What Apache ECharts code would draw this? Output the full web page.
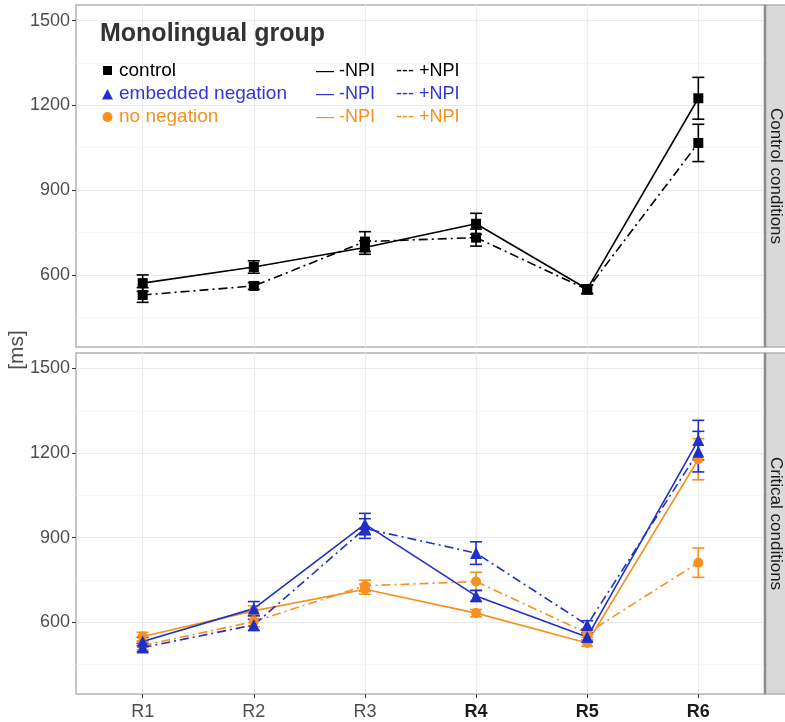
<!DOCTYPE html>
<html>
<head>
<meta charset="utf-8">
<script src="https://cdn.jsdelivr.net/npm/echarts@6/dist/echarts.min.js"></script>
<style>
  html, body { margin: 0; padding: 0; background: #fff; }
  #chart { width: 785px; height: 722px; }
</style>
</head>
<body>
<div id="chart"></div>
<script>
// categories / ticks
const regions = ['R1', 'R2', 'R3', 'R4', 'R5', 'R6'];
const boldRegions = ['R4', 'R5', 'R6'];
const yTicks = [600, 900, 1200, 1500];
const yMinor = [450, 750, 1050, 1350];
const yLimits = [345, 1555];
const panelNames = ['Control conditions', 'Critical conditions'];

// mean reading times [ms] and error bar half-widths
const controlNoNpi = [571, 628, 697, 781, 550, 1225];
const controlNoNpiErr = [29, 22, 24, 37, 15, 74];
const controlNpi = [529, 561, 718, 732, 548, 1067];
const controlNpiErr = [26, 12, 35, 30, 15, 66];

const embeddedNoNpi = [531, 648, 948, 693, 547, 1246];
const embeddedNoNpiErr = [15, 25, 38, 20, 15, 70];
const embeddedNpi = [510, 590, 932, 845, 590, 1205];
const embeddedNpiErr = [15, 20, 35, 40, 15, 72];

const noNegNoNpi = [549, 640, 717, 632, 526, 1178];
const noNegNoNpiErr = [15, 18, 18, 13, 12, 73];
const noNegNpi = [517, 602, 729, 744, 561, 811];
const noNegNpiErr = [15, 18, 20, 33, 15, 52];

const BLACK = '#000000';
const BLUE = '#1f2fc8';
const ORANGE = '#f7901e';
const DOTDASH = [9, 4, 2, 4];

const chart = echarts.init(document.getElementById('chart'));

function pts(vals) {
  return vals.map((v, i) => [i + 1, v]);
}
function bars(vals, errs) {
  return vals.map((v, i) => [i + 1, v - errs[i], v + errs[i]]);
}

function gridSeries(idx) {
  const lines = regions.map((r, i) => ({ xAxis: i + 1, lineStyle: { color: '#ebebeb', width: 1.2 } }))
    .concat(yTicks.map(v => ({ yAxis: v, lineStyle: { color: '#ebebeb', width: 1.2 } })))
    .concat(yMinor.map(v => ({ yAxis: v, lineStyle: { color: '#f4f4f4', width: 0.8 } })));
  return {
    type: 'line', data: [], xAxisIndex: idx, yAxisIndex: idx, silent: true, z: 1,
    markLine: { symbol: 'none', silent: true, z: 1, label: { show: false }, animation: false,
      lineStyle: { type: 'solid' }, data: lines }
  };
}

function lineSeries(idx, vals, color, symbol, size, dash) {
  return {
    type: 'line', xAxisIndex: idx, yAxisIndex: idx, data: pts(vals), z: 4,
    symbol: symbol, symbolSize: size, showSymbol: true,
    itemStyle: { color: color, borderWidth: 0, borderColor: color },
    lineStyle: { color: color, width: 1.6, type: dash },
    emphasis: { disabled: true },
    animation: false
  };
}

function errSeries(idx, vals, errs, color) {
  return {
    type: 'custom', xAxisIndex: idx, yAxisIndex: idx, data: bars(vals, errs), z: 3,
    animation: false,
    renderItem: function (params, api) {
      const x = api.value(0);
      const lo = api.coord([x, api.value(1)]);
      const hi = api.coord([x, api.value(2)]);
      const w = 6;
      const style = { stroke: color, lineWidth: 1.6 };
      return {
        type: 'group',
        children: [
          { type: 'line', shape: { x1: lo[0], y1: lo[1], x2: hi[0], y2: hi[1] }, style: style },
          { type: 'line', shape: { x1: lo[0] - w, y1: lo[1], x2: lo[0] + w, y2: lo[1] }, style: style },
          { type: 'line', shape: { x1: hi[0] - w, y1: hi[1], x2: hi[0] + w, y2: hi[1] }, style: style }
        ]
      };
    }
  };
}

const tickColor = '#333333';
const labelColor = '#4d4d4d';

function xAxis(idx, showLabels) {
  return {
    type: 'value', gridIndex: idx, min: 0.4, max: 6.6,
    axisLine: { show: false },
    splitLine: { show: false },
    axisTick: { show: showLabels, length: 4, lineStyle: { color: tickColor, width: 1 }, customValues: [1, 2, 3, 4, 5, 6] },
    axisLabel: {
      show: showLabels, customValues: [1, 2, 3, 4, 5, 6], margin: 9,
      fontFamily: 'Liberation Sans', fontSize: 18, color: labelColor,
      formatter: function (v) {
        const r = regions[Math.round(v) - 1];
        return boldRegions.indexOf(r) >= 0 ? '{b|' + r + '}' : r;
      },
      rich: { b: { fontWeight: 'bold', color: '#1a1a1a', fontFamily: 'Liberation Sans', fontSize: 18 } }
    }
  };
}

function yAxis(idx) {
  return {
    type: 'value', gridIndex: idx, min: yLimits[0], max: yLimits[1],
    axisLine: { show: false },
    splitLine: { show: false },
    axisTick: { show: true, length: 4, lineStyle: { color: tickColor, width: 1 }, customValues: yTicks },
    axisLabel: {
      customValues: yTicks, margin: 6, fontFamily: 'Liberation Sans', fontSize: 18, color: labelColor,
      formatter: function (v) { return String(v); }
    }
  };
}

// legend (drawn as graphic text)
const groupNames = ['control', 'embedded negation', 'no negation'];
const groupColors = [BLACK, '#3333d6', ORANGE];
const legendRowsY = [71, 94, 117];
const legendGraphics = [
  { type: 'text', left: 100, top: 22, z: 20, style: { text: 'Monolingual group', fontFamily: 'Liberation Sans', fontWeight: 'bold', fontSize: 25, fill: '#333333' } },
  { type: 'rect', z: 20, shape: { x: 103, y: 66, width: 9, height: 9 }, style: { fill: BLACK } },
  { type: 'polygon', z: 20, shape: { points: [[107.5, 89], [102, 99.5], [113, 99.5]] }, style: { fill: '#2b2bd0' } },
  { type: 'circle', z: 20, shape: { cx: 107.5, cy: 117, r: 5 }, style: { fill: ORANGE } }
];
groupNames.forEach((g, i) => {
  legendGraphics.push({ type: 'text', z: 20, x: 119, y: legendRowsY[i], style: { text: g, fontFamily: 'Liberation Sans', fontSize: 19, fill: groupColors[i], verticalAlign: 'middle' } });
  legendGraphics.push({ type: 'text', z: 20, x: 316, y: legendRowsY[i], style: { text: '\u2014 -NPI', fontFamily: 'Liberation Sans', fontSize: 18, fill: groupColors[i], verticalAlign: 'middle' } });
  legendGraphics.push({ type: 'text', z: 20, x: 396, y: legendRowsY[i], style: { text: '--- +NPI', fontFamily: 'Liberation Sans', fontSize: 18, fill: groupColors[i], verticalAlign: 'middle' } });
});

// facet strips
const panels = [{ top: 5, height: 342 }, { top: 353, height: 341 }];
const stripGraphics = [];
panels.forEach((p, i) => {
  stripGraphics.push({ type: 'rect', shape: { x: 765, y: p.top, width: 22, height: p.height }, style: { fill: '#d9d9d9', stroke: '#b3b3b3', lineWidth: 1.5 }, z: 10 });
  stripGraphics.push({ type: 'line', shape: { x1: 765, y1: p.top, x2: 765, y2: p.top + p.height }, style: { stroke: '#8c8c8c', lineWidth: 2.5 }, z: 11 });
  stripGraphics.push({ type: 'text', x: 775.5, y: p.top + p.height / 2, rotation: -Math.PI / 2, z: 12,
    style: { text: panelNames[i], fontFamily: 'Liberation Sans', fontSize: 17, fill: '#1a1a1a', align: 'center', verticalAlign: 'middle' } });
});
stripGraphics.push({ type: 'text', x: 17, y: 350, rotation: Math.PI / 2,
  style: { text: '[ms]', fontFamily: 'Liberation Sans', fontSize: 21, fill: '#4d4d4d', align: 'center', verticalAlign: 'middle' } });

chart.setOption({
  animation: false,
  backgroundColor: '#ffffff',
  grid: panels.map(p => ({
    left: 76, top: p.top, width: 689, height: p.height,
    show: true, backgroundColor: '#ffffff', borderColor: '#b3b3b3', borderWidth: 1.5
  })),
  xAxis: [xAxis(0, false), xAxis(1, true)],
  yAxis: [yAxis(0), yAxis(1)],
  graphic: legendGraphics.concat(stripGraphics),
  series: [
    gridSeries(0),
    gridSeries(1),
    // control conditions
    errSeries(0, controlNoNpi, controlNoNpiErr, BLACK),
    errSeries(0, controlNpi, controlNpiErr, BLACK),
    lineSeries(0, controlNoNpi, BLACK, 'rect', 10, 'solid'),
    lineSeries(0, controlNpi, BLACK, 'rect', 10, DOTDASH),
    // critical conditions
    errSeries(1, noNegNoNpi, noNegNoNpiErr, ORANGE),
    errSeries(1, noNegNpi, noNegNpiErr, ORANGE),
    lineSeries(1, noNegNoNpi, ORANGE, 'circle', 10, 'solid'),
    lineSeries(1, noNegNpi, ORANGE, 'circle', 10, DOTDASH),
    errSeries(1, embeddedNoNpi, embeddedNoNpiErr, BLUE),
    errSeries(1, embeddedNpi, embeddedNpiErr, BLUE),
    lineSeries(1, embeddedNoNpi, BLUE, 'triangle', 12, 'solid'),
    lineSeries(1, embeddedNpi, BLUE, 'triangle', 12, DOTDASH)
  ]
});

window.onresize = function () {
  chart.resize();
};
</script>
</body>
</html>
